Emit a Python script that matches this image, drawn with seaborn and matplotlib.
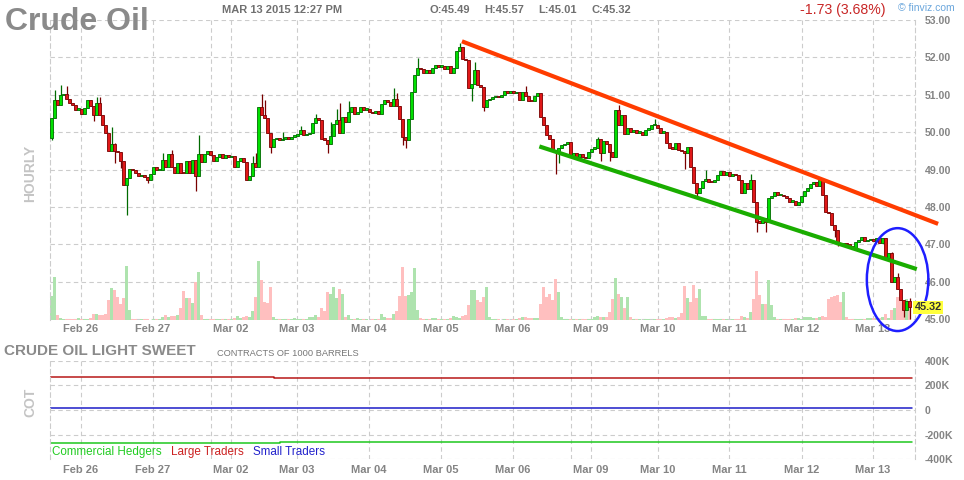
import numpy as np
import matplotlib
matplotlib.use("Agg")
import matplotlib.pyplot as plt
import matplotlib.transforms as mtrans
from matplotlib.patches import Ellipse
import seaborn as sns

sns.set_style("white")
plt.rcParams['font.family'] = ['Liberation Sans', 'DejaVu Sans']

# hourly closes (one per bar)
first_open = 49.85
closes_feb25 = [50.39, 50.86, 50.72, 51.00, 51.02, 50.89, 50.78, 50.74, 50.60, 50.62,
                50.50, 50.66, 50.85, 50.70, 50.47, 50.77, 50.47, 50.20, 49.98, 49.49,
                49.69, 49.49, 49.46, 49.22, 48.59, 48.78, 49.02, 48.98, 48.92, 48.83,
                48.85, 48.80, 48.71, 48.87, 49.07, 48.99, 49.00, 49.26, 49.07, 49.42,
                49.07, 48.90, 49.17, 48.92, 48.90, 49.24, 48.92, 49.26, 48.84, 49.42,
                49.20, 49.42, 49.50, 49.38, 49.22, 49.35, 49.42, 49.32, 49.40]
closes_mar02 = [49.33, 49.36, 49.07, 49.22, 49.30, 49.20, 48.71, 48.83, 49.17, 49.07,
                50.68, 50.45, 50.37, 49.98, 49.60, 49.82, 49.84, 49.79, 49.82, 49.86,
                49.83, 49.88, 49.90, 49.95, 50.07, 49.92, 49.95, 49.98, 50.25, 50.38,
                50.33, 49.82, 49.80, 49.68, 49.90, 50.21, 50.33, 49.98, 50.40, 50.28,
                50.54, 50.67, 50.48, 50.53, 50.67, 50.60, 50.63, 50.54, 50.51, 50.56,
                50.50, 50.76, 50.85, 50.80, 50.71, 50.90, 50.71, 50.36]
closes_mar04 = [49.86, 49.80, 50.36, 51.08, 51.54, 51.72, 51.68, 51.59, 51.65, 51.59,
                51.72, 51.80, 51.75, 51.78, 51.70, 51.78, 51.59, 51.72, 52.18, 52.27,
                51.97, 51.92, 51.18, 51.30, 51.65, 51.27, 51.22, 50.67, 50.85, 50.90,
                50.94, 50.97, 50.93, 51.00, 51.11, 51.05, 51.10, 51.05, 51.07, 50.87,
                51.07, 50.96, 50.84, 50.83, 50.97, 51.05, 50.40, 50.18, 49.93, 49.83,
                49.53, 49.50, 49.57, 49.65, 49.69, 49.74, 49.35]
closes_mar09 = [49.44, 49.33, 49.42, 49.35, 49.31, 49.47, 49.56, 49.57, 49.83, 49.44,
                49.76, 49.69, 49.47, 49.35, 50.60, 50.20, 50.47, 49.95, 50.11, 50.00,
                50.07, 49.99, 50.00, 49.92, 50.07, 50.08, 50.18, 50.20, 50.10, 49.99,
                50.00, 49.71, 49.59, 49.56, 49.71, 49.52, 49.50, 49.44, 49.60, 49.08,
                48.64, 48.37, 48.50, 48.70, 48.75, 48.68, 48.66, 48.72, 48.86, 48.97,
                48.86, 48.93, 48.84, 48.88, 48.86, 48.73, 48.37, 48.64]
closes_mar11 = [48.48, 48.73, 48.14, 47.61, 47.58, 47.72, 47.60, 48.23, 48.29, 48.40,
                48.32, 48.33, 48.30, 48.23, 48.14, 48.17, 48.06, 48.14, 48.29, 48.44,
                48.52, 48.62, 48.68, 48.55, 48.71, 48.32, 47.88, 47.84, 47.52, 47.39,
                47.03, 47.00, 47.05, 47.00, 46.95, 46.90, 47.06, 47.12, 47.20, 47.08,
                47.12, 47.14, 47.08, 47.16, 47.05, 47.16, 46.63, 46.77, 46.00, 46.13,
                45.82, 45.51, 45.24, 45.49, 45.32]

# wicks that stick out of the bodies (bar number, price)
wick_hi_bar = [1, 3, 5, 15, 16, 20, 21, 37, 40, 49, 67, 68, 70, 71, 77, 83, 88, 93, 95, 96,
               99, 114, 115, 122, 136, 141, 158, 182, 189, 201, 218, 233, 280, 282, 286]
wick_hi_val = [51.14, 51.27, 51.23, 50.94, 50.94, 50.15, 49.72, 49.45, 49.53, 49.93,
               49.37, 49.45, 51.02, 50.87, 50.01, 50.17, 50.49, 50.27, 50.63, 50.78,
               50.83, 51.17, 51.05, 51.99, 52.39, 51.88, 51.23, 49.86, 50.74, 50.36,
               48.99, 48.89, 46.80, 46.23, 45.57]
wick_lo_bar = [0, 14, 21, 23, 25, 32, 48, 73, 92, 117, 118, 140, 144, 168, 169, 183, 186,
               211, 215, 235, 238, 261, 262, 284, 286]
wick_lo_val = [49.78, 50.29, 49.18, 49.05, 47.79, 48.65, 48.44, 49.44, 49.44, 49.66,
               49.58, 50.83, 50.58, 48.89, 49.19, 49.24, 49.22, 49.02, 48.28, 47.34,
               47.34, 47.20, 46.95, 45.06, 45.01]

# volume per bar (relative units, 300 = full panel height)
vol_feb25 = [24, 43, 5, 2, 1, 1, 1, 1, 1, 2, 1, 1, 1, 2, 6, 6, 5, 5, 6, 20,
             32, 30, 23, 16, 22, 54, 10, 1, 1, 0, 1, 1, 1, 0, 1, 1, 1, 3, 5, 3,
             4, 4, 5, 12, 29, 22, 22, 17, 38, 48, 5, 1, 1, 1, 1, 1, 1, 1, 1]
vol_mar02 = [1, 1, 2, 4, 2, 3, 4, 3, 9, 23, 59, 40, 18, 17, 33, 3, 1, 1, 1, 1,
             1, 1, 2, 1, 1, 1, 1, 3, 3, 5, 3, 12, 9, 28, 26, 33, 22, 31, 26, 3,
             5, 1, 1, 2, 1, 1, 1, 0, 1, 1, 1, 6, 3, 2, 2, 6, 9, 24]
vol_mar04 = [53, 24, 25, 28, 52, 10, 2, 1, 1, 1, 2, 2, 1, 1, 1, 1, 2, 4, 3, 2,
             4, 5, 15, 30, 30, 20, 18, 23, 33, 3, 1, 1, 1, 0, 1, 1, 0, 1, 1, 2,
             3, 3, 2, 2, 2, 2, 16, 33, 23, 26, 20, 41, 28, 3, 1, 1, 1]
vol_mar09 = [1, 1, 1, 1, 1, 1, 1, 3, 4, 3, 3, 3, 8, 21, 42, 26, 23, 12, 23, 3,
             1, 1, 1, 0, 1, 1, 0, 1, 1, 1, 1, 2, 3, 3, 2, 3, 7, 34, 22, 18,
             35, 22, 31, 4, 4, 1, 1, 1, 1, 1, 1, 1, 0, 1, 1, 1, 4, 3]
vol_mar11 = [2, 8, 21, 49, 25, 16, 16, 40, 15, 3, 1, 1, 1, 1, 1, 1, 2, 2, 1, 3,
             3, 3, 2, 2, 3, 4, 3, 21, 23, 24, 25, 18, 28, 3, 1, 1, 1, 1, 1, 1,
             2, 2, 2, 2, 2, 3, 6, 2, 10, 12, 23, 20, 12, 21, 13]
vol_top = 300

# session labels (bar number where each label sits) and weekend breaks
day_labels = ["Feb 26", "Feb 27", "Mar 02", "Mar 03", "Mar 04", "Mar 05",
              "Mar 06", "Mar 09", "Mar 10", "Mar 11", "Mar 12", "Mar 13"]
day_bars = [9.8, 33.8, 59.8, 81.8, 105.8, 129.8, 153.8, 179.8, 202.2, 225.8, 250.2, 273.8]
weekend_bars = [53.2, 173.2]

# drawn channel and circled area
resist_bar = [136.8, 295.5]
resist_px = [52.43, 47.55]
support_bar = [162.6, 288.4]
support_px = [49.62, 46.34]
circle_bar, circle_px, circle_w, circle_h = 282, 46.06, 20.5, 2.75

# COT net positions (contracts), steps at report dates
cot_large_bar = [-0.5, 74, 286.8]
cot_large = [271000, 262000, 262000]
cot_comm_bar = [-0.5, 76, 286.8]
cot_comm = [-270000, -262000, -262000]
cot_small_bar = [-0.5, 286.8]
cot_small = [14000, 14000]

closes = np.array(closes_feb25 + closes_mar02 + closes_mar04 + closes_mar09 + closes_mar11)
opens = np.concatenate([[first_open], closes[:-1]])
highs = np.maximum(opens, closes)
lows = np.minimum(opens, closes)
for b, v in zip(wick_hi_bar, wick_hi_val):
    highs[b] = max(highs[b], v)
for b, v in zip(wick_lo_bar, wick_lo_val):
    lows[b] = min(lows[b], v)
vol = np.array(vol_feb25 + vol_mar02 + vol_mar04 + vol_mar09 + vol_mar11, dtype=float)
bars = np.arange(len(closes))
up = closes >= opens

W, H = 964, 480
fig = plt.figure(figsize=(W / 100, H / 100), dpi=100)

def box(l, t, r, b):
    return [l / W, 1 - b / H, (r - l) / W, (b - t) / H]

grey = '#848484'
dash = (0, (4, 3))
gridc = '#cccccc'
xlim = (-0.5, 287.8)

# ---- price panel
ax = fig.add_axes(box(50, 20, 915, 320))
ax.set_xlim(*xlim)
ax.set_ylim(44.98, 53.0)

body_fill = np.where(up, '#00e000', '#e01818')
body_edge = np.where(up, '#006a00', '#780000')
vol_col = np.where(up, '#aee3ae', '#ffbfbf')

ax.bar(bars, vol / vol_top, width=1.0, bottom=0, color=vol_col, linewidth=0,
       transform=ax.get_xaxis_transform(), zorder=1)
ax.vlines(bars, lows, highs, colors=body_edge, lw=0.9, zorder=2)
h = np.maximum(np.abs(closes - opens), 0.035)
ax.bar(bars, h, bottom=np.minimum(opens, closes), width=0.9, color=body_fill,
       edgecolor=body_edge, linewidth=0.6, zorder=3)

ax.plot(resist_bar, resist_px, color='#ff3c00', lw=3, solid_capstyle='butt',
        clip_on=False, zorder=5)
ax.plot(support_bar, support_px, color='#1aad00', lw=3, solid_capstyle='butt',
        clip_on=False, zorder=5)
ax.add_patch(Ellipse((circle_bar, circle_px), circle_w, circle_h, fill=False,
                     ec='#1e1eff', lw=1.8, clip_on=False, zorder=6))

ax.set_yticks(np.arange(45, 54, 1))
ax.set_yticklabels([f"{v:.2f}" for v in np.arange(45, 54, 1)])
ax.yaxis.tick_right()
ax.set_xticks(day_bars)
ax.set_xticklabels(day_labels)
ax.set_xticks(weekend_bars, minor=True)
ax.grid(which='both', ls=dash, color=gridc, lw=0.8)
ax.set_axisbelow(True)
ax.tick_params(axis='both', which='both', length=0, labelsize=8, labelcolor=grey)
ax.tick_params(axis='x', pad=3)
ax.tick_params(axis='y', pad=7, labelsize=7.6)
for s in ['top', 'bottom']:
    ax.spines[s].set_visible(False)
for s in ['left', 'right']:
    ax.spines[s].set_linestyle(dash)
    ax.spines[s].set_color(gridc)
    ax.spines[s].set_linewidth(0.8)
for lab in ax.get_xticklabels() + ax.get_yticklabels():
    lab.set_fontweight('bold')

last_tr = mtrans.blended_transform_factory(ax.transAxes, ax.transData)
ax.text(0.9995, closes[-1], f"{closes[-1]:.2f}", transform=last_tr, ha='left', va='center',
        fontsize=7.8, fontweight='bold', color='#333333', zorder=7,
        bbox=dict(boxstyle='square,pad=0.12', fc='#ffff3c', ec='none'))

# ---- COT panel
ax2 = fig.add_axes(box(50, 360.7, 915, 459.3))
ax2.set_xlim(*xlim)
ax2.set_ylim(-400000, 400000)
sns.lineplot(x=cot_large_bar, y=cot_large, ax=ax2, color='#b81818', lw=1.1,
             drawstyle='steps-post')
sns.lineplot(x=cot_comm_bar, y=cot_comm, ax=ax2, color='#1ec81e', lw=1.1,
             drawstyle='steps-post')
sns.lineplot(x=cot_small_bar, y=cot_small, ax=ax2, color='#1c1cc8', lw=1.1,
             drawstyle='steps-post')
cot_ticks = [-400000, -200000, 0, 200000, 400000]
ax2.set_yticks(cot_ticks)
ax2.set_yticklabels(['-400K', '-200K', '0', '200K', '400K'])
ax2.yaxis.tick_right()
ax2.set_xticks(day_bars)
ax2.set_xticklabels(day_labels)
ax2.set_xticks(weekend_bars, minor=True)
ax2.grid(which='both', ls=dash, color=gridc, lw=0.8)
ax2.set_axisbelow(True)
ax2.tick_params(axis='both', which='both', length=0, labelsize=8, labelcolor=grey)
ax2.tick_params(axis='x', pad=4)
ax2.tick_params(axis='y', pad=7, labelsize=7.6)
for s in ['top', 'bottom']:
    ax2.spines[s].set_visible(False)
for s in ['left', 'right']:
    ax2.spines[s].set_linestyle(dash)
    ax2.spines[s].set_color(gridc)
    ax2.spines[s].set_linewidth(0.8)
for lab in ax2.get_xticklabels() + ax2.get_yticklabels():
    lab.set_fontweight('bold')

# ---- texts
def ftext(x, y, s, **kw):
    fig.text(x / W, 1 - y / H, s, **kw)

ftext(5, 30, "Crude Oil", fontsize=23, fontweight='bold', color='#8a8a8a', va='baseline')
ftext(222, 10, "MAR 13 2015 12:27 PM", fontsize=8, fontweight='bold', color='#707070', va='center')
for x, s in [(430, "O:45.49"), (484, "H:45.57"), (538, "L:45.01"), (591, "C:45.32")]:
    ftext(x, 10, s, fontsize=8, fontweight='bold', color='#707070', va='center')
ftext(800, 10, "-1.73 (3.68%)", fontsize=10.2, color='#c82626', va='center')
ftext(898, 8, "\u00a9 finviz.com", fontsize=7.5, color='#6aa6dc', va='center')
ftext(30, 173, "HOURLY", fontsize=10, fontweight='bold', color='#c4c4c4',
      rotation=90, ha='center', va='center')
ftext(30, 402, "COT", fontsize=10, fontweight='bold', color='#c4c4c4',
      rotation=90, ha='center', va='center')
ftext(4, 351, "CRUDE OIL LIGHT SWEET", fontsize=11, fontweight='bold', color='#8a8a8a', va='center')
ftext(217, 353, "CONTRACTS OF 1000 BARRELS", fontsize=6.7, color='#777777', va='center')
ftext(52, 452, "Commercial Hedgers", fontsize=8.4, color='#22cc22', va='center')
ftext(171, 452, "Large Traders", fontsize=8.4, color='#cc2222', va='center')
ftext(253, 452, "Small Traders", fontsize=8.4, color='#2222cc', va='center')

fig.savefig("out.png", dpi=100)
